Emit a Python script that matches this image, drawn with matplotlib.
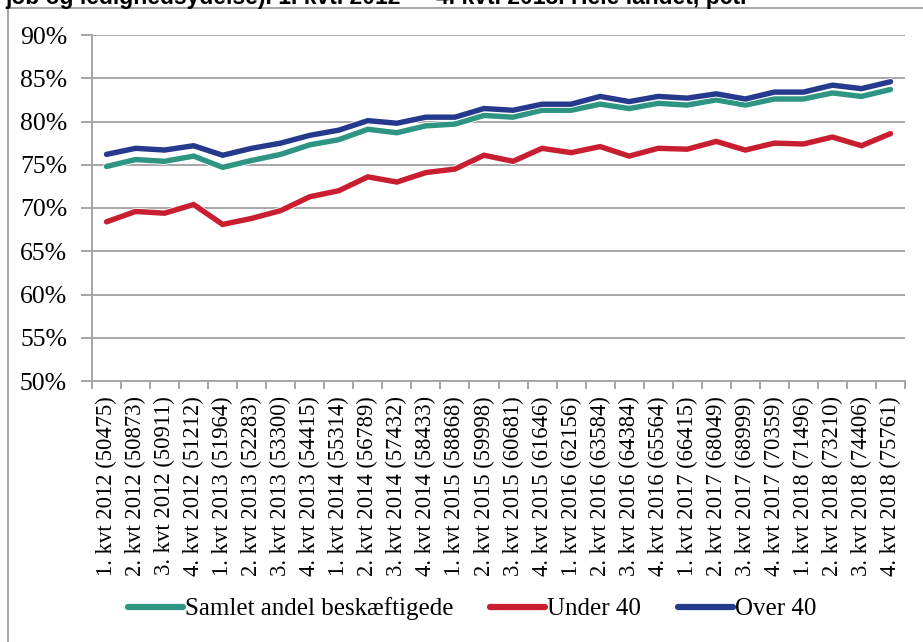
import matplotlib
matplotlib.use("Agg")
import matplotlib.pyplot as plt
import matplotlib.patheffects as pe
from matplotlib.patches import Rectangle
from matplotlib.ticker import FixedLocator, FuncFormatter

categories = [
    "1. kvt 2012 (50475)", "2. kvt 2012 (50873)", "3. kvt 2012 (50911)", "4. kvt 2012 (51212)",
    "1. kvt 2013 (51964)", "2. kvt 2013 (52283)", "3. kvt 2013 (53300)", "4. kvt 2013 (54415)",
    "1. kvt 2014 (55314)", "2. kvt 2014 (56789)", "3. kvt 2014 (57432)", "4. kvt 2014 (58433)",
    "1. kvt 2015 (58868)", "2. kvt 2015 (59998)", "3. kvt 2015 (60681)", "4. kvt 2015 (61646)",
    "1. kvt 2016 (62156)", "2. kvt 2016 (63584)", "3. kvt 2016 (64384)", "4. kvt 2016 (65564)",
    "1. kvt 2017 (66415)", "2. kvt 2017 (68049)", "3. kvt 2017 (68999)", "4. kvt 2017 (70359)",
    "1. kvt 2018 (71496)", "2. kvt 2018 (73210)", "3. kvt 2018 (74406)", "4. kvt 2018 (75761)",
]

samlet = [74.8, 75.6, 75.4, 76.0, 74.7, 75.5, 76.2, 77.3, 77.9, 79.1, 78.7, 79.5, 79.7, 80.7,
          80.5, 81.3, 81.3, 82.0, 81.5, 82.1, 81.9, 82.5, 81.9, 82.6, 82.6, 83.3, 82.9, 83.7]
under40 = [68.4, 69.6, 69.4, 70.4, 68.1, 68.8, 69.7, 71.3, 72.0, 73.6, 73.0, 74.1, 74.5, 76.1,
           75.4, 76.9, 76.4, 77.1, 76.0, 76.9, 76.8, 77.7, 76.7, 77.5, 77.4, 78.2, 77.2, 78.6]
over40 = [76.2, 76.9, 76.7, 77.2, 76.1, 76.9, 77.5, 78.4, 79.0, 80.1, 79.8, 80.5, 80.5, 81.5,
          81.3, 82.0, 82.0, 82.9, 82.3, 82.9, 82.7, 83.2, 82.6, 83.4, 83.4, 84.2, 83.8, 84.6]

series_names = ["Samlet andel beskæftigede", "Under 40", "Over 40"]
colors = ["#2E9583", "#C81E30", "#253A8C"]

title_text = "job og ledighedsydelse). 1. kvt. 2012 \u2014 4. kvt. 2018. Hele landet, pct."

W, H = 923, 642
fig = plt.figure(figsize=(W / 100, H / 100), dpi=100)
serif = "Liberation Serif"

ax = fig.add_axes([92 / W, 1 - 381 / H, (905 - 92) / W, (381 - 35) / H])

x = list(range(len(categories)))
for vals, c, name in zip([samlet, under40, over40], colors, series_names):
    ax.plot(x, vals, color=c, lw=3.9, label=name, solid_joinstyle="miter",
            solid_capstyle="round",
            path_effects=[pe.Stroke(linewidth=5.1, foreground="white"), pe.Normal()])

ax.set_xlim(-0.5, len(categories) - 0.5)
ax.set_ylim(50, 90)
yt = list(range(50, 91, 5))
ax.set_yticks(yt)
ax.yaxis.set_major_formatter(FuncFormatter(lambda v, p: f"{int(round(v))}%"))
ax.grid(axis="y", color="#A6A6A6", lw=1.4)
ax.set_axisbelow(True)

ax.set_xticks(x)
ax.set_xticklabels(categories, rotation=90, fontfamily=serif, fontsize=16.3)
ax.xaxis.set_minor_locator(FixedLocator([i - 0.5 for i in range(len(categories) + 1)]))
ax.tick_params(axis="x", which="major", length=0, pad=11)
ax.tick_params(axis="x", which="minor", length=6, width=1.4, color="#A6A6A6", direction="out")
ax.tick_params(axis="y", length=8, width=1.4, color="#A6A6A6", pad=10, labelsize=18.5)
for lab in ax.get_yticklabels():
    lab.set_fontfamily(serif)

for s in ["top", "right"]:
    ax.spines[s].set_visible(False)
for s in ["left", "bottom"]:
    ax.spines[s].set_color("#A6A6A6")
    ax.spines[s].set_linewidth(1.4)

# outer frame
fig.patches.append(Rectangle((8 / W, -0.02), 1.05, 1 - 8 / H + 0.02, transform=fig.transFigure,
                             fill=False, edgecolor="#A6A6A6", lw=1.4))

# clipped title at top (partially outside the figure, as in the reference)
fig.text(5 / W, 1 - 4 / H, title_text, ha="left", va="baseline",
         fontfamily="Liberation Sans", fontweight="bold", fontsize=16.5)

leg = fig.legend(loc="center", bbox_to_anchor=(472 / W, 1 - 609 / H), ncol=3, frameon=False,
                 prop={"family": serif, "size": 18}, handlelength=2.2, handletextpad=0.1,
                 columnspacing=1.45)
for h in leg.get_lines():
    h.set_linewidth(4.5)

fig.savefig("out.png", dpi=100)
